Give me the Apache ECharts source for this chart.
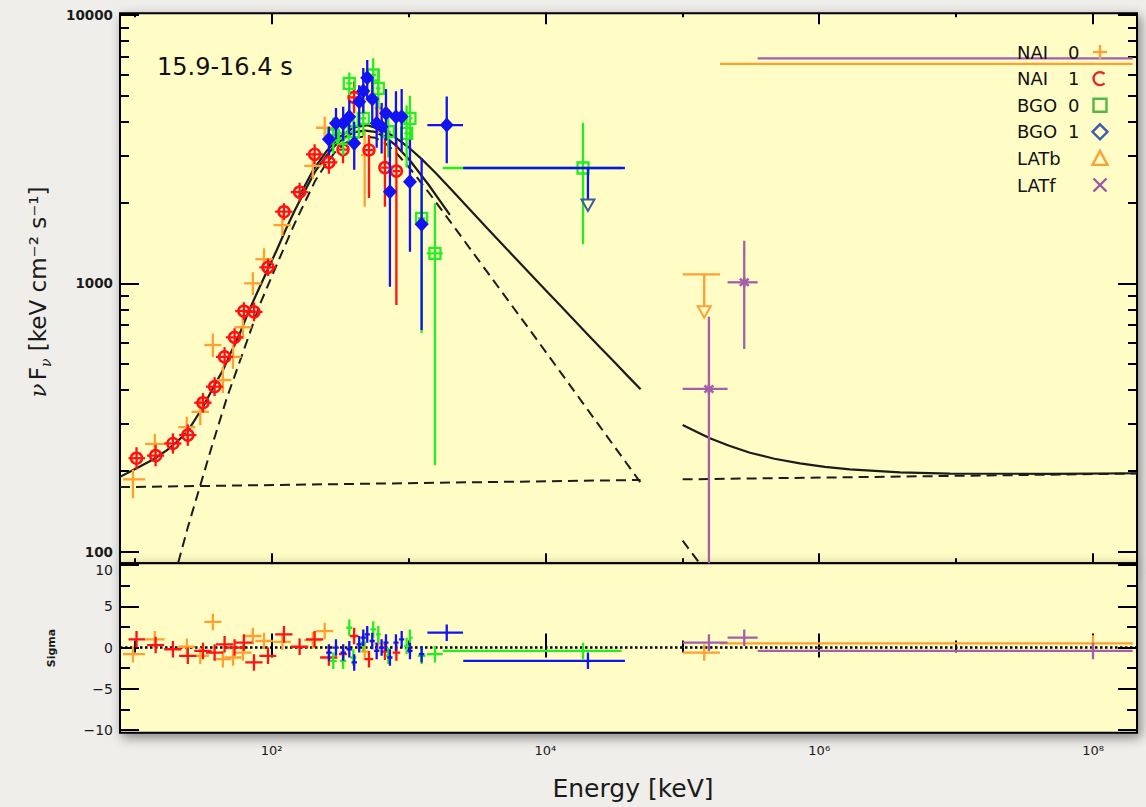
<!DOCTYPE html>
<html>
<head>
<meta charset="utf-8">
<title>nuFnu spectrum 15.9-16.4 s</title>
<script src="https://cdn.jsdelivr.net/npm/echarts@6.0.0/dist/echarts.min.js"></script>
<style>
  html, body { margin: 0; padding: 0; background: #f0eeea; }
  #chart { width: 1146px; height: 807px; }
</style>
</head>
<body>
<div id="chart"></div>
<script>
const FONT = "'DejaVu Sans', 'Noto Sans', sans-serif";

// ---- axis ranges -------------------------------------------------------
const X_MIN = 7.8, X_MAX = 2.096e8;        // keV
const F_MIN = 90.5, F_MAX = 10147;          // keV cm^-2 s^-1
const S_MIN = -10.3, S_MAX = 10.2;          // residual sigma

// ---- tick values and labels -------------------------------------------
const X_MAJOR = [1e2, 1e4, 1e6, 1e8];
const X_MINOR = [1e1, 1e3, 1e5, 1e7];
const X_LABELS = ['10²', '10⁴', '10⁶', '10⁸'];
const F_MAJOR = [100, 1000, 10000];
const F_MINOR = [200, 300, 400, 500, 600, 700, 800, 900,
                 2000, 3000, 4000, 5000, 6000, 7000, 8000, 9000];
const S_MAJOR = [-10, -5, 0, 5, 10];
const S_MINOR = [-7.5, -2.5, 2.5, 7.5];

// ---- data: [E, nuFnu, Elo, Ehi, Flo, Fhi] --------------------------------
const NAI0 = [
  [9.7, 186, 8.2, 11.9, 158, 202],
  [14.0, 252, 11.9, 16.5, 232, 275],
  [24.0, 291, 20.8, 27.7, 266, 318],
  [30.1, 332, 26.0, 34.8, 296, 372],
  [37.2, 589, 32.2, 43.0, 530, 650],
  [44.0, 436, 38.0, 50.8, 390, 488],
  [52.2, 532, 45.1, 60.3, 480, 590],
  [61.7, 686, 53.3, 71.3, 620, 760],
  [72.9, 1000, 63.0, 84.2, 905, 1100],
  [88.0, 1230, 76.0, 102, 1120, 1350],
  [119.7, 1649, 103, 138, 1500, 1810],
  [200, 2741, 173, 231, 2450, 3060],
  [244, 3801, 211, 282, 3450, 4180],
  [478, 3006, 450, 508, 1930, 3700],
  [600, 4500, 565, 640, 3600, 5600]
];
const NAI1 = [
  [10.3, 223, 9.0, 11.9, 203, 245],
  [14.2, 228, 12.3, 16.4, 208, 250],
  [19.0, 253, 16.4, 21.9, 232, 276],
  [24.4, 272, 21.1, 28.2, 248, 298],
  [31.5, 359, 27.2, 36.4, 330, 390],
  [38.3, 412, 33.1, 44.2, 380, 447],
  [45.3, 532, 39.2, 52.3, 490, 578],
  [53.6, 629, 46.3, 61.9, 582, 680],
  [62.7, 788, 54.2, 72.4, 730, 850],
  [74.3, 783, 64.2, 85.8, 722, 849],
  [94.0, 1147, 81.3, 108, 1065, 1235],
  [123, 1849, 106, 142, 1720, 1990],
  [160, 2188, 138, 185, 2020, 2370],
  [206, 3026, 178, 238, 2780, 3300],
  [262, 2825, 226, 302, 2560, 3120],
  [332, 3150, 310, 355, 2800, 3570],
  [400, 4930, 372, 430, 4300, 5650],
  [514, 3139, 478, 552, 2080, 3570],
  [672, 2700, 630, 715, 1930, 3570],
  [815, 2620, 765, 870, 830, 3400]
];
const BGO0 = [
  [282, 3570, 266, 299, 3050, 4150],
  [333, 3471, 316, 351, 3000, 4000],
  [369, 5565, 351, 388, 5030, 6100],
  [395, 3673, 376, 415, 3150, 4250],
  [467, 4121, 445, 490, 3550, 4750],
  [552, 5975, 527, 578, 5100, 6900],
  [601, 5332, 578, 625, 4500, 6200],
  [711, 3673, 680, 744, 2950, 4450],
  [968, 3622, 930, 1008, 2700, 4600],
  [1023, 4121, 1008, 1070, 3300, 5000],
  [1246, 1747, 1170, 1330, 653, 2360],
  [1559, 1294, 1360, 1780, 210, 1990],
  [18820, 2690, 1778, 36000, 1397, 3970]
];
const BGO1 = [
  [262, 3441, 250, 275, 3010, 3835],
  [295, 3947, 281, 309, 3450, 4500],
  [333, 3947, 318, 349, 3400, 4550],
  [369, 4178, 352, 386, 3600, 4800],
  [401, 3325, 383, 420, 2650, 4000],
  [436, 4753, 417, 456, 3835, 5470],
  [467, 5208, 447, 488, 4300, 6350],
  [499, 5838, 478, 521, 4900, 6800],
  [543, 4863, 520, 567, 4000, 5800],
  [585, 3947, 560, 611, 3200, 4800],
  [636, 3835, 609, 664, 3050, 4700],
  [684, 4301, 655, 714, 3400, 5300],
  [731, 2195, 700, 763, 971, 3427],
  [809, 4178, 775, 845, 3230, 5200],
  [891, 4178, 853, 930, 3100, 5300],
  [1024, 2391, 980, 1070, 1310, 3427],
  [1246, 1660, 1190, 1305, 670, 2924],
  [1901, 3888, 1373, 2500, 2801, 4966]
];
// upper limits: [E, nuFnu, Elo, Ehi, arrow tip]
const BGO1_UL = [[20440, 2690, 2509, 38080, 1958]];
const LATB_UL = [[144500, 1080, 100500, 188300, 784]];
const LATF = [
  [156400, 404, 100500, 214000, 50, 751],
  [283300, 1009, 214000, 355000, 569, 1441]
];
// wide high-energy bins: [E, nuFnu, Elo, Ehi]
const LATB_WIDE = [[1e8, 6569, 188300, 1.95e8]];
const LATF_WIDE = [[1e8, 6892, 355000, 1.95e8]];

// ---- residuals: [E, sigma, Elo, Ehi] -------------------------------------
const RES_NAI0 = [
  [9.7, -0.8, 8.2, 11.9], [14.0, 1.0, 11.9, 16.5], [24.0, 0.1, 20.8, 27.7],
  [30.1, -1.0, 26.0, 34.8], [37.2, 3.1, 32.2, 43.0], [44.0, -1.4, 38.0, 50.8],
  [52.2, -1.2, 45.1, 60.3], [61.7, -0.6, 53.3, 71.3], [72.9, 1.4, 63.0, 84.2],
  [88.0, 0.8, 76.0, 102], [119.7, 0.7, 103, 138], [200, 0.9, 173, 231],
  [244, 2.0, 211, 282], [478, -0.5, 450, 508], [600, 0.5, 565, 640]
];
const RES_NAI1 = [
  [10.3, 1.0, 9.0, 11.9], [14.2, 0.3, 12.3, 16.4], [19.0, -0.2, 16.4, 21.9],
  [24.4, -1.0, 21.1, 28.2], [31.5, -0.4, 27.2, 36.4], [38.3, -0.6, 33.1, 44.2],
  [45.3, 0.4, 39.2, 52.3], [53.6, 0.0, 46.3, 61.9], [62.7, 0.6, 54.2, 72.4],
  [74.3, -1.8, 64.2, 85.8], [94.0, -1.0, 81.3, 108], [123, 1.6, 106, 142],
  [160, 0.1, 138, 185], [206, 1.0, 178, 238], [262, -1.2, 226, 302],
  [332, -0.8, 310, 355], [400, 1.4, 372, 430], [514, -1.4, 478, 552],
  [672, -0.5, 630, 715], [815, -0.6, 765, 870]
];
const RES_BGO0 = [
  [282, -1.6, 266, 299], [333, -1.6, 316, 351], [369, 2.4, 351, 388],
  [395, -1.2, 376, 415], [467, 0.6, 445, 490], [552, 2.2, 527, 578],
  [601, 1.6, 578, 625], [711, -1.0, 680, 744], [968, 0.2, 930, 1008],
  [1023, 1.2, 1008, 1070], [1246, -1.0, 1170, 1330], [1559, -0.8, 1360, 1780],
  [18820, -0.4, 1778, 36000]
];
const RES_BGO1 = [
  [262, -0.6, 250, 275], [295, 0.0, 281, 309], [333, -0.6, 318, 349],
  [369, -0.2, 352, 386], [401, -1.8, 383, 420], [436, 0.4, 417, 456],
  [467, 1.2, 447, 488], [499, 1.6, 478, 521], [543, 0.8, 520, 567],
  [585, -0.4, 560, 611], [636, 0.0, 609, 664], [684, 0.6, 655, 714],
  [731, -1.2, 700, 763], [809, 0.6, 775, 845], [891, 1.0, 853, 930],
  [1024, -0.4, 980, 1070], [1246, -0.8, 1190, 1305], [1901, 1.8, 1373, 2500],
  [20440, -1.6, 2509, 38080]
];
const RES_LATB = [[144500, -0.6, 100500, 188300], [1e8, 0.5, 188300, 1.95e8]];
const RES_LATF = [[156400, 0.6, 100500, 214000], [283300, 1.2, 214000, 355000],
                  [1e8, -0.4, 355000, 1.95e8]];
const RESID_ERR = 1;   // residual error bars are one sigma

// ---- model curves: [E, nuFnu] --------------------------------------------
const MODEL_NAI_TOTAL = [
  [7.8, 190], [10.4, 205], [13.5, 220], [17.2, 239], [20.5, 258], [24.1, 279],
  [31.5, 346], [37.5, 410], [44.1, 475], [51, 560], [58.7, 653], [67.5, 780],
  [78.1, 920], [92, 1105], [109, 1331], [127, 1590], [148, 1876], [175, 2215],
  [207, 2600], [250, 2980], [290, 3260], [345, 3510], [406, 3660], [480, 3710],
  [568, 3670], [670, 3520], [796, 3290], [1024, 2870], [1400, 2330], [2004, 1800]
];
const MODEL_BGO_TOTAL = [
  [158.5, 2104], [199.5, 2630], [251.2, 3105], [316.2, 3524], [398.1, 3811],
  [501.2, 3882], [631, 3741], [794.3, 3508], [1000, 3214], [1259, 2891],
  [1585, 2570], [1995, 2270], [2512, 2000], [3162, 1762], [3981, 1554],
  [5012, 1371], [6310, 1211], [7943, 1069], [10000, 944], [12589, 835],
  [15849, 738], [19953, 652], [25119, 577], [31623, 511], [39811, 452],
  [49550, 403]
];
const MODEL_BAND_GBM = [
  [18, 70], [20.7, 90.5], [24.5, 124], [29.9, 174.6], [37, 252], [46.9, 372],
  [61.9, 555], [82.1, 835], [109, 1175], [148, 1680], [207, 2400], [250, 2790],
  [290, 3080], [345, 3330], [406, 3480], [480, 3530], [568, 3490], [670, 3340],
  [796, 3100], [1024, 2678], [1400, 2185], [2004, 1705], [8000, 652],
  [49500, 181]
];
const MODEL_PL_GBM = [[7.8, 174], [49500, 185]];
const MODEL_LAT_TOTAL = [
  [100500, 296.6], [130000, 278], [159000, 264.5], [220000, 248], [312000, 233.8],
  [470000, 222], [723000, 213.4], [1.1e6, 207], [1.675e6, 202.6], [3.88e6, 197.5],
  [9.0e6, 195.4], [4.84e7, 195], [2.096e8, 196]
];
const MODEL_PL_LAT = [[100500, 186], [2.096e8, 195.5]];
const MODEL_BAND_LAT = [[100500, 110], [160000, 80]];

// ---- legend -----------------------------------------------------------
const LEGEND_NAMES = ['NAI', 'NAI', 'BGO', 'BGO', 'LATb', 'LATf'];
const LEGEND_INDEX = ['0', '1', '0', '1', '', ''];
const LEGEND_SYMBOLS = ['plus', 'arc', 'square', 'diamond', 'triangle', 'cross'];
const LEGEND_COLORS = ['#f7a33a', '#e5262a', '#55b54a', '#3d5bb0', '#f7a33a', '#9b59a6'];

// ---- colours ----------------------------------------------------------
const C_NAI0 = '#ffa030', C_NAI1 = '#ff1212', C_BGO0 = '#22ee22',
      C_BGO1 = '#1212f2', C_LAT_B = '#ffa030', C_LAT_F = '#a35fab';
const C_MODEL = '#1c1c1c';
const BAR_W = 2.3;

// ---- helpers ----------------------------------------------------------
function markerShape(kind, x, y, color) {
  if (kind === 'circle') {
    return { type: 'circle', shape: { cx: x, cy: y, r: 5.5 },
             style: { fill: 'none', stroke: color, lineWidth: 2.5 } };
  }
  if (kind === 'square') {
    return { type: 'rect', shape: { x: x - 5.5, y: y - 5.5, width: 11, height: 11 },
             style: { fill: 'none', stroke: color, lineWidth: 2.3 } };
  }
  if (kind === 'diamond') {
    return { type: 'polygon',
             shape: { points: [[x, y - 7.5], [x + 7, y], [x, y + 7.5], [x - 7, y]] },
             style: { fill: color } };
  }
  if (kind === 'asterisk') {
    const st = { stroke: color, lineWidth: 2.5 };
    return { type: 'group', children: [
      { type: 'line', shape: { x1: x - 4.5, y1: y - 3.5, x2: x + 4.5, y2: y + 3.5 }, style: st },
      { type: 'line', shape: { x1: x - 4.5, y1: y + 3.5, x2: x + 4.5, y2: y - 3.5 }, style: st },
      { type: 'line', shape: { x1: x, y1: y - 5, x2: x, y2: y + 5 }, style: st }
    ] };
  }
  return null;
}

const DIMS6 = ['e', 'f', 'elo', 'ehi', 'flo', 'fhi'];

function pointSeries(name, data, color, marker, z) {
  return {
    type: 'custom', name, xAxisIndex: 0, yAxisIndex: 0, clip: true, z,
    dimensions: DIMS6, encode: { x: 0, y: 1 }, data, silent: true,
    renderItem(params, api) {
      const e = api.value(0), f = api.value(1);
      const c = api.coord([e, f]);
      const l = api.coord([api.value(2), f]);
      const r = api.coord([api.value(3), f]);
      const t = api.coord([e, api.value(5)]);
      const b = api.coord([e, api.value(4)]);
      const st = { stroke: color, lineWidth: BAR_W };
      const children = [
        { type: 'line', shape: { x1: l[0], y1: c[1], x2: r[0], y2: c[1] }, style: st },
        { type: 'line', shape: { x1: c[0], y1: t[1], x2: c[0], y2: b[1] }, style: st }
      ];
      const m = markerShape(marker, c[0], c[1], color);
      if (m) children.push(m);
      return { type: 'group', children };
    }
  };
}

function upperLimitSeries(name, data, color, tipColor, z) {
  return {
    type: 'custom', name, xAxisIndex: 0, yAxisIndex: 0, clip: true, z,
    dimensions: ['e', 'f', 'elo', 'ehi', 'tip'], encode: { x: 0, y: 1 }, data, silent: true,
    renderItem(params, api) {
      const e = api.value(0), f = api.value(1);
      const c = api.coord([e, f]);
      const l = api.coord([api.value(2), f]);
      const r = api.coord([api.value(3), f]);
      const a = api.coord([e, api.value(4)]);
      const st = { stroke: color, lineWidth: BAR_W };
      return { type: 'group', children: [
        { type: 'line', shape: { x1: l[0], y1: c[1], x2: r[0], y2: c[1] }, style: st },
        { type: 'line', shape: { x1: c[0], y1: c[1], x2: c[0], y2: a[1] - 5.5 }, style: st },
        { type: 'polygon',
          shape: { points: [[a[0] - 6.5, a[1] - 5.5], [a[0] + 6.5, a[1] - 5.5], [a[0], a[1] + 6]] },
          style: { fill: 'none', stroke: tipColor, lineWidth: 2 } }
      ] };
    }
  };
}

function wideBinSeries(name, data, color, z) {
  return {
    type: 'custom', name, xAxisIndex: 0, yAxisIndex: 0, clip: true, z,
    dimensions: ['e', 'f', 'elo', 'ehi'], encode: { x: 0, y: 1 }, data, silent: true,
    renderItem(params, api) {
      const f = api.value(1);
      const l = api.coord([api.value(2), f]);
      const r = api.coord([api.value(3), f]);
      return { type: 'line', shape: { x1: l[0], y1: l[1], x2: r[0], y2: r[1] },
               style: { stroke: color, lineWidth: BAR_W } };
    }
  };
}

function residualSeries(name, data, color, z) {
  return {
    type: 'custom', name, xAxisIndex: 4, yAxisIndex: 4, clip: true, z,
    dimensions: ['e', 's', 'elo', 'ehi'], encode: { x: 0, y: 1 }, data, silent: true,
    renderItem(params, api) {
      const e = api.value(0), s = api.value(1);
      const c = api.coord([e, s]);
      const l = api.coord([api.value(2), s]);
      const r = api.coord([api.value(3), s]);
      const t = api.coord([e, s + RESID_ERR]);
      const b = api.coord([e, s - RESID_ERR]);
      const st = { stroke: color, lineWidth: BAR_W };
      return { type: 'group', children: [
        { type: 'line', shape: { x1: l[0], y1: c[1], x2: r[0], y2: c[1] }, style: st },
        { type: 'line', shape: { x1: c[0], y1: t[1], x2: c[0], y2: b[1] }, style: st }
      ] };
    }
  };
}

function modelLine(data, dashed, width) {
  return {
    type: 'line', xAxisIndex: 0, yAxisIndex: 0, data, clip: true, silent: true,
    symbol: 'none', showSymbol: false, smooth: false, z: 2,
    lineStyle: { color: C_MODEL, width: width || 2.2, type: dashed ? [10, 6] : 'solid',
                 cap: 'butt', join: 'round' }
  };
}

const TICK_STYLE = { color: '#000', width: 2 };

function xAxisDef(grid, position, values, length, labelled) {
  return {
    type: 'log', logBase: 10, gridIndex: grid, position, min: X_MIN, max: X_MAX,
    axisLine: { show: false }, splitLine: { show: false },
    axisTick: { show: true, inside: true, length, customValues: values, lineStyle: TICK_STYLE },
    axisLabel: labelled ? {
      show: true, customValues: values, margin: 11,
      fontFamily: FONT, fontSize: 13, color: '#1a1a1a',
      formatter: v => {
        const k = Math.round(Math.log10(v));
        const i = X_MAJOR.findIndex(m => Math.round(Math.log10(m)) === k);
        return i >= 0 ? X_LABELS[i] : '';
      }
    } : { show: false }
  };
}

function yAxisDef(grid, position, type, min, max, values, length, label) {
  const ax = {
    type, gridIndex: grid, position, min, max,
    axisLine: { show: false }, splitLine: { show: false },
    axisTick: { show: true, inside: true, length, customValues: values, lineStyle: TICK_STYLE },
    axisLabel: label ? Object.assign({ show: true, customValues: values }, label) : { show: false }
  };
  if (type === 'log') ax.logBase = 10;
  return ax;
}

const fluxLabel = {
  margin: 7, fontFamily: FONT, fontSize: 13.5, fontWeight: 'bold', color: '#1a1a1a',
  formatter: v => String(Math.pow(10, Math.round(Math.log10(v))))
};
const sigmaLabel = {
  margin: 7, fontFamily: FONT, fontSize: 14, color: '#1a1a1a',
  // the top label sits a little lower so it clears the panel divider
  formatter: v => (v >= S_MAJOR[S_MAJOR.length - 1] ? '{low|' + v + '}'
                   : (v < 0 ? '−' + Math.abs(v) : String(v))),
  rich: { low: { fontFamily: FONT, fontSize: 14, color: '#1a1a1a', padding: [11, 0, 0, 0] } }
};

// ---- legend graphics --------------------------------------------------
function legendSymbol(kind, x, y, color) {
  const st = { stroke: color, lineWidth: 2.4, fill: 'none' };
  switch (kind) {
    case 'plus': return [
      { type: 'line', shape: { x1: x - 7, y1: y, x2: x + 7, y2: y }, style: st },
      { type: 'line', shape: { x1: x, y1: y - 7, x2: x, y2: y + 7 }, style: st }];
    case 'arc': return [{ type: 'arc', shape: { cx: x, cy: y, r: 6.5, startAngle: 0.8, endAngle: Math.PI * 2 - 0.8 }, style: st }];
    case 'square': return [{ type: 'rect', shape: { x: x - 6.5, y: y - 6.5, width: 13, height: 13 }, style: st }];
    case 'diamond': return [{ type: 'polygon', shape: { points: [[x, y - 7.5], [x + 7.5, y], [x, y + 7.5], [x - 7.5, y]] }, style: st }];
    case 'triangle': return [{ type: 'polygon', shape: { points: [[x, y - 7.5], [x + 7.5, y + 6.5], [x - 7.5, y + 6.5]] }, style: st }];
    case 'cross': return [
      { type: 'line', shape: { x1: x - 6.5, y1: y - 6.5, x2: x + 6.5, y2: y + 6.5 }, style: st },
      { type: 'line', shape: { x1: x - 6.5, y1: y + 6.5, x2: x + 6.5, y2: y - 6.5 }, style: st }];
  }
  return [];
}

const graphics = [];
LEGEND_NAMES.forEach((name, i) => {
  const y = 52 + 26.6 * i;
  graphics.push({ type: 'text', x: 1017, y, z: 50,
    style: { text: name, fill: '#111', font: '18px ' + FONT, verticalAlign: 'middle', align: 'left' } });
  if (LEGEND_INDEX[i]) {
    graphics.push({ type: 'text', x: 1068, y, z: 50,
      style: { text: LEGEND_INDEX[i], fill: '#111', font: '18px ' + FONT, verticalAlign: 'middle', align: 'left' } });
  }
  legendSymbol(LEGEND_SYMBOLS[i], 1100, y, LEGEND_COLORS[i]).forEach(el => { el.z = 50; graphics.push(el); });
});

graphics.push({ type: 'text', x: 157, y: 67, z: 50,
  style: { text: '15.9-16.4 s', fill: '#111', font: '24px ' + FONT, verticalAlign: 'middle', align: 'left' } });

graphics.push({ type: 'text', x: 633, y: 788, z: 50,
  style: { text: 'Energy [keV]', fill: '#1a1a1a', font: '25px ' + FONT, verticalAlign: 'middle', align: 'center' } });

graphics.push({ type: 'text', x: 51, y: 648, z: 50, rotation: Math.PI / 2,
  style: { text: 'Sigma', fill: '#1a1a1a', font: 'bold 11px ' + FONT, verticalAlign: 'middle', align: 'center' } });

graphics.push({ type: 'text', x: 38, y: 292, z: 50, rotation: Math.PI / 2,
  style: {
    text: '{nu|ν} {t|F}{sub|ν}{t| [keV cm⁻² s⁻¹]}',
    align: 'center', verticalAlign: 'middle', fill: '#1a1a1a',
    rich: {
      nu: { fontFamily: "'DejaVu Serif', serif", fontStyle: 'italic', fontSize: 23, lineHeight: 30, verticalAlign: 'middle', fill: '#1a1a1a' },
      t: { fontFamily: FONT, fontSize: 23, lineHeight: 30, verticalAlign: 'middle', fill: '#1a1a1a' },
      sub: { fontFamily: "'DejaVu Serif', serif", fontStyle: 'italic', fontSize: 14, lineHeight: 14, verticalAlign: 'bottom', fill: '#1a1a1a' }
    }
  } });

// ---- chart ------------------------------------------------------------
const chart = echarts.init(document.getElementById('chart'), null, { renderer: 'svg' });

const gridStyle = {
  show: true, backgroundColor: '#fffcc5', borderColor: '#000', borderWidth: 2,
  shadowColor: 'rgba(0,0,0,0.45)', shadowBlur: 12, shadowOffsetX: 3, shadowOffsetY: 4
};

chart.setOption({
  animation: false,
  backgroundColor: '#f0eeea',
  grid: [
    Object.assign({ left: 120, top: 13.3, width: 1017, height: 550 }, gridStyle),
    Object.assign({ left: 120, top: 563.3, width: 1017, height: 169.4 }, gridStyle)
  ],
  xAxis: [
    xAxisDef(0, 'bottom', X_MAJOR, 10),
    xAxisDef(0, 'bottom', X_MINOR, 5),
    xAxisDef(0, 'top', X_MAJOR, 11),
    xAxisDef(0, 'top', X_MINOR, 4),
    xAxisDef(1, 'bottom', X_MAJOR, 14, true),
    xAxisDef(1, 'bottom', X_MINOR, 7),
    xAxisDef(1, 'top', X_MAJOR, 10),
    xAxisDef(1, 'top', X_MINOR, 5)
  ],
  yAxis: [
    yAxisDef(0, 'left', 'log', F_MIN, F_MAX, F_MAJOR, 19, fluxLabel),
    yAxisDef(0, 'left', 'log', F_MIN, F_MAX, F_MINOR, 9),
    yAxisDef(0, 'right', 'log', F_MIN, F_MAX, F_MAJOR, 19),
    yAxisDef(0, 'right', 'log', F_MIN, F_MAX, F_MINOR, 9),
    yAxisDef(1, 'left', 'value', S_MIN, S_MAX, S_MAJOR, 19, sigmaLabel),
    yAxisDef(1, 'left', 'value', S_MIN, S_MAX, S_MINOR, 10),
    yAxisDef(1, 'right', 'value', S_MIN, S_MAX, S_MAJOR, 19),
    yAxisDef(1, 'right', 'value', S_MIN, S_MAX, S_MINOR, 10)
  ],
  graphic: graphics,
  series: [
    // model components
    modelLine(MODEL_PL_GBM, true, 2),
    modelLine(MODEL_BAND_GBM, true, 2),
    modelLine(MODEL_NAI_TOTAL, false),
    modelLine(MODEL_BGO_TOTAL, false),
    modelLine(MODEL_LAT_TOTAL, false),
    modelLine(MODEL_PL_LAT, true, 2),
    modelLine(MODEL_BAND_LAT, true, 2),
    // spectral data
    pointSeries('NAI 0', NAI0, C_NAI0, null, 3),
    pointSeries('NAI 1', NAI1, C_NAI1, 'circle', 4),
    pointSeries('BGO 0', BGO0, C_BGO0, 'square', 5),
    pointSeries('BGO 1', BGO1, C_BGO1, 'diamond', 6),
    upperLimitSeries('BGO 1 limit', BGO1_UL, C_BGO1, '#3d5aa0', 6),
    upperLimitSeries('LATb', LATB_UL, C_LAT_B, C_LAT_B, 7),
    wideBinSeries('LATb wide', LATB_WIDE, C_LAT_B, 7),
    wideBinSeries('LATf wide', LATF_WIDE, C_LAT_F, 7),
    pointSeries('LATf', LATF, C_LAT_F, 'asterisk', 8),
    // residual panel
    {
      type: 'line', xAxisIndex: 4, yAxisIndex: 4, silent: true, symbol: 'none', z: 2,
      data: [[X_MIN, 0], [X_MAX, 0]],
      lineStyle: { color: '#000', width: 2.5, type: [2.5, 2.5] }
    },
    residualSeries('NAI 0 resid', RES_NAI0, C_NAI0, 3),
    residualSeries('NAI 1 resid', RES_NAI1, C_NAI1, 4),
    residualSeries('BGO 0 resid', RES_BGO0, C_BGO0, 5),
    residualSeries('BGO 1 resid', RES_BGO1, C_BGO1, 6),
    residualSeries('LATb resid', RES_LATB, C_LAT_B, 7),
    residualSeries('LATf resid', RES_LATF, C_LAT_F, 8)
  ]
});
</script>
</body>
</html>
